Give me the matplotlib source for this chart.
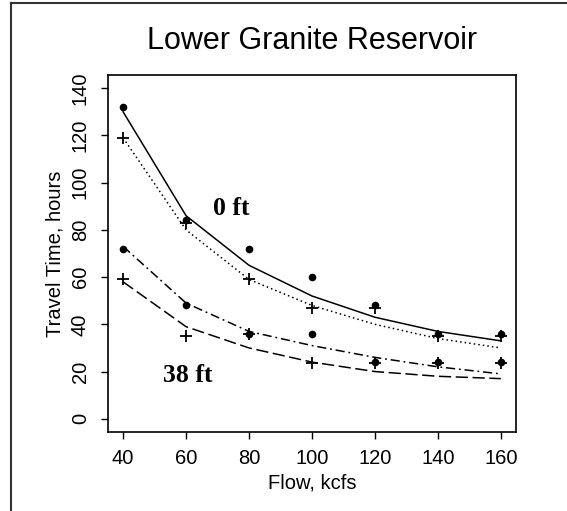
import matplotlib
matplotlib.use("Agg")
import matplotlib.pyplot as plt
from matplotlib.lines import Line2D

plt.rcParams['font.family'] = ['Liberation Sans', 'DejaVu Sans']

# flow, kcfs
flow = [40, 60, 80, 100, 120, 140, 160]

# observed travel times (hours)
obs_0ft_dot = [132, 84, 72, 60, 48, 36, 36]
obs_0ft_plus = [119, 83, 59, 47, 47, 35, 35]
obs_38ft_dot = [72, 48, 36, 36, 24, 24, 24]
obs_38ft_plus = [59, 35, 36, 23.5, 23.5, 23.5, 23.5]

# model curves
model_0ft_a = [130, 86, 65, 52, 43, 37, 33]
model_0ft_b = [119, 80, 59, 48, 40, 34, 30]
model_38ft_a = [73, 49, 37, 31, 26, 22, 19]
model_38ft_b = [58, 39, 30, 24, 20, 18, 17]

fig = plt.figure(figsize=(5.67, 5.11), dpi=100)
ax = fig.add_axes([108/567, 1 - 432/511, (516-108)/567, (432-75)/511])

lw = 1.1
ax.plot(flow, model_0ft_a, color="k", lw=lw, ls="-")
ax.plot(flow, model_0ft_b, color="k", lw=lw, ls=(0, (1, 2)))
ax.plot(flow, model_38ft_a, color="k", lw=lw, ls=(0, (6, 2.5, 1.2, 2.5)))
ax.plot(flow, model_38ft_b, color="k", lw=lw, ls=(0, (8, 3)))

ax.plot(flow, obs_0ft_dot, "o", color="k", ms=4.5, ls="none")
ax.plot(flow, obs_38ft_dot, "o", color="k", ms=4.5, ls="none")
ax.plot(flow, obs_0ft_plus, "+", color="k", ms=9, mew=1.3, ls="none")
ax.plot(flow, obs_38ft_plus, "+", color="k", ms=9, mew=1.3, ls="none")

ax.text(74.3, 89, "0 ft", family="Liberation Serif", fontweight="bold",
        fontsize=18.5, ha="center", va="center")
ax.text(60.6, 18.3, "38 ft", family="Liberation Serif", fontweight="bold",
        fontsize=18.5, ha="center", va="center")

ax.set_xlim(35.2, 164.8)
ax.set_ylim(-5.6, 145.6)
ax.set_xticks(flow)
ax.set_yticks(range(0, 141, 20))
ax.tick_params(axis="both", direction="out", length=5, width=1, labelsize=14.5)
ax.tick_params(axis="x", pad=7)
ax.tick_params(axis="y", pad=8)
for lab in ax.get_yticklabels():
    lab.set_rotation(90)
    lab.set_va("center")
for s in ax.spines.values():
    s.set_linewidth(1.2)

ax.set_xlabel("Flow, kcfs", fontsize=14.5, va="center")
ax.set_ylabel("Travel Time, hours", fontsize=14.5, va="center")
ax.xaxis.set_label_coords(0.5, (432 - 483) / 357)
ax.yaxis.set_label_coords((55 - 108) / 408, 0.5)
fig.text(0.5 * (108 + 516) / 567, 1 - 41/511, "Lower Granite Reservoir",
         fontsize=22, ha="center", va="center")

# outer frame (top and left edges only visible)
fig.add_artist(Line2D([11/567, 1], [1 - 3/511, 1 - 3/511], color="#333333",
                      lw=1.5, transform=fig.transFigure))
fig.add_artist(Line2D([11/567, 11/567], [0, 1 - 3/511], color="#333333",
                      lw=1.5, transform=fig.transFigure))

fig.savefig("out.png", dpi=100)
